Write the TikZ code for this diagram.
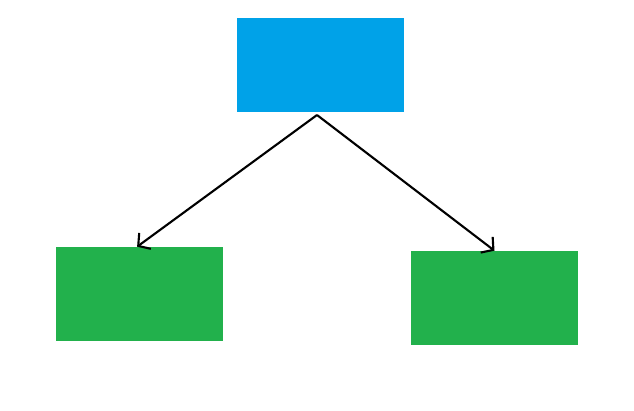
\documentclass[tikz,border=0pt]{standalone}
\usepackage{tikz}
\usetikzlibrary{arrows.meta}

\definecolor{paintblue}{RGB}{0,162,232}
\definecolor{paintgreen}{RGB}{34,177,76}

\begin{document}
\begin{tikzpicture}[x=0.025cm,y=-0.025cm,
    box/.style={rectangle, minimum width=4.175cm, minimum height=2.35cm, inner sep=0pt, draw=none},
    topbox/.style={box, fill=paintblue},
    leafbox/.style={box, fill=paintgreen},
    link/.style={line width=1.5pt, -{Straight Barb[length=6pt,width=14pt]}}]
    \useasboundingbox (0,0) rectangle (634,410);

    \node[topbox] (root) at (320.5,65) {};
    \node[leafbox] (left) at (139.5,294) {};
    \node[leafbox] (right) at (494.5,298) {};

    \coordinate (apex) at (317,115);
    \draw[link] (apex) -- ([xshift=-0.06cm]left.north);
    \draw[link] (apex) -- (right.north);
\end{tikzpicture}
\end{document}
